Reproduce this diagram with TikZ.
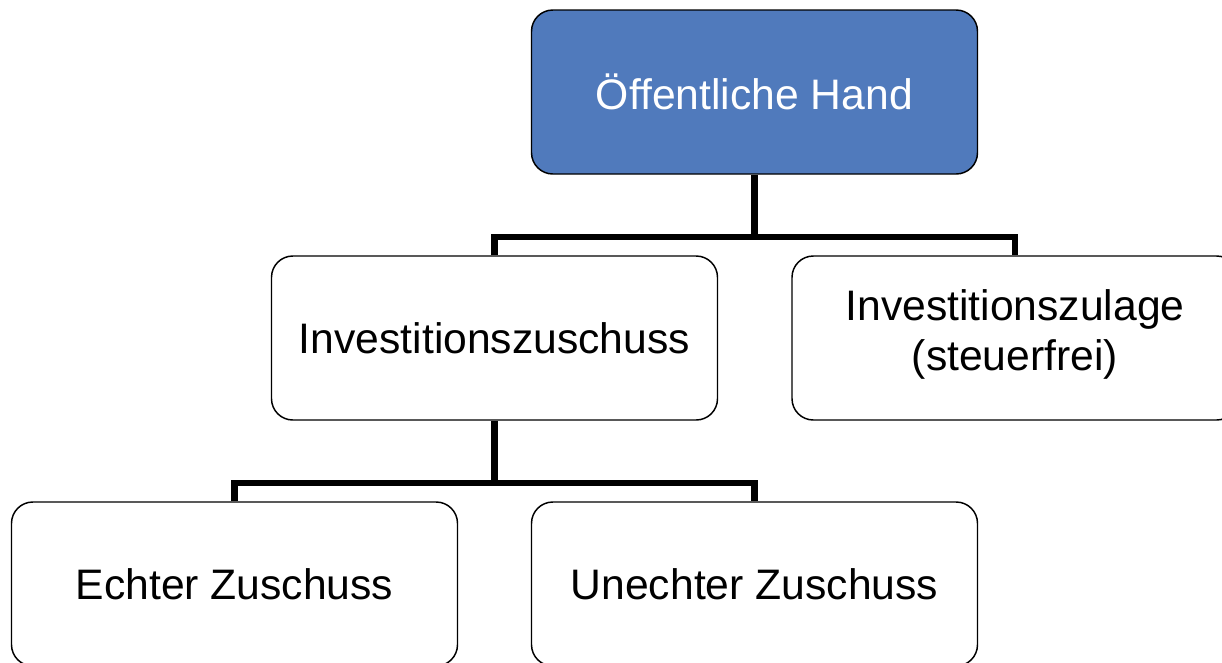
\documentclass[tikz,border=0pt]{standalone}
\usepackage{fontspec}
\setmainfont{Liberation Sans}
\usepackage{tikz}
\usetikzlibrary{positioning, calc}
\definecolor{handBlue}{RGB}{80,122,188}

\begin{document}
\begin{tikzpicture}[x=0.75pt, y=-0.75pt,
        box/.style={draw, fill=#1, line width=1.1pt, rounded corners=16pt,
                    minimum width=334.5pt, minimum height=123pt, align=center,
                    font=\fontsize{32}{38}\selectfont, inner sep=0pt},
        box/.default=white,
        conn/.style={line width=4.6pt}
      ]
        \clip (0,0) rectangle (1222,662);
        \useasboundingbox (0,0) rectangle (1222,662);
        \node[box=handBlue, text=white] (hand)     at (754.5,92)  {Öffentliche Hand};
        \node[box]                      (zuschuss) at (494.5,338) {Investitionszuschuss};
        \node[box, text depth=12pt]     (zulage)   at (1015,338)  {Investitionszulage\\(steuerfrei)};
        \node[box]                      (echt)     at (234.5,584) {Echter Zuschuss};
        \node[box]                      (unecht)   at (754.5,584) {Unechter Zuschuss};
        % branches
        \coordinate (barA) at (754.5,237);
        \coordinate (barB) at (494.5,483);
        \draw[conn] (hand) -- (barA);
        \draw[conn] (zuschuss.north) |- (barA) -| (zulage.north);
        \draw[conn] (zuschuss) -- (barB);
        \draw[conn] (echt.north) |- (barB) -| (unecht.north);
      \end{tikzpicture}
\end{document}
